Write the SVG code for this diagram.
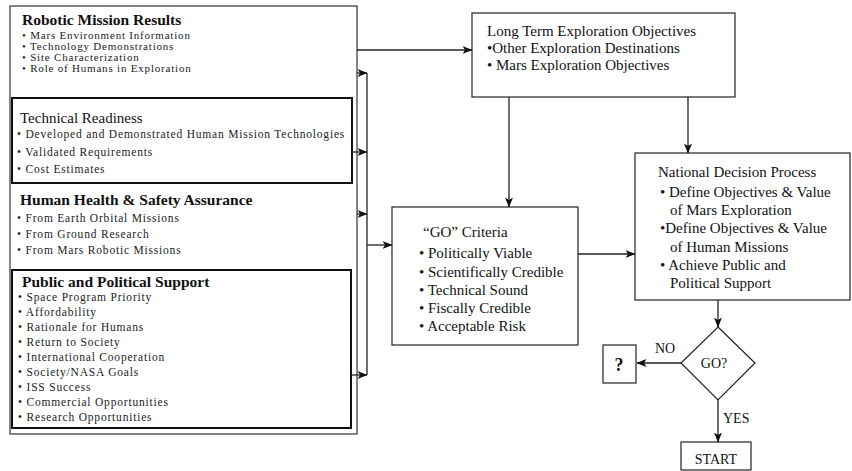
<svg xmlns="http://www.w3.org/2000/svg" width="852" height="471" viewBox="0 0 852 471">
<defs>
<style>
text{font-family:"Liberation Serif","Times New Roman",serif;fill:#111}
.t{font-size:15.5px;font-weight:bold}
.tr{font-size:15px}
.i{font-size:11.5px;letter-spacing:0.8px;fill:#222}
.r{font-size:15px}
.box{fill:#fff;stroke:#222;stroke-width:1.2}
.frame{fill:#fff;stroke:#333;stroke-width:1.2}
.thick{fill:none;stroke:#111;stroke-width:2}
.c{fill:none;stroke:#222;stroke-width:1.3}
.ca{fill:none;stroke:#222;stroke-width:1.3;marker-end:url(#ah)}
</style>
<marker id="ah" viewBox="0 0 10 8" refX="9.5" refY="4" markerWidth="10" markerHeight="8" markerUnits="userSpaceOnUse" orient="auto">
<path d="M0,0 L10,4 L0,8 L2.5,4 z" fill="#111"/>
</marker>
</defs>
<rect width="852" height="471" fill="#fff"/>

<g id="inputs">
<rect class="frame" x="10" y="6" width="347" height="428"/>
</g>

<g id="robotic">
<text class="t" x="22" y="25">Robotic Mission Results</text>
<text class="i" x="22" y="39" style="font-size:11px">• Mars Environment Information</text>
<text class="i" x="22" y="50" style="font-size:11px">• Technology Demonstrations</text>
<text class="i" x="22" y="61" style="font-size:11px">• Site Characterization</text>
<text class="i" x="22" y="72" style="font-size:11px">• Role of Humans in Exploration</text>
</g>

<g id="technical">
<rect class="thick" x="12" y="98" width="340" height="85"/>
<text class="tr" x="20" y="123">Technical Readiness</text>
<text class="i" x="17" y="138">• Developed and Demonstrated Human Mission Technologies</text>
<text class="i" x="17" y="156">• Validated Requirements</text>
<text class="i" x="17" y="173">• Cost Estimates</text>
</g>

<g id="health">
<text class="t" x="20" y="205">Human Health &amp; Safety Assurance</text>
<text class="i" x="17" y="222">• From Earth Orbital Missions</text>
<text class="i" x="17" y="238">• From Ground Research</text>
<text class="i" x="17" y="254">• From Mars Robotic Missions</text>
</g>

<g id="public">
<rect class="thick" x="12" y="270" width="339" height="158"/>
<text class="t" x="22" y="287">Public and Political Support</text>
<text class="i" x="18" y="301">• Space Program Priority</text>
<text class="i" x="18" y="316">• Affordability</text>
<text class="i" x="18" y="331">• Rationale for Humans</text>
<text class="i" x="18" y="346">• Return to Society</text>
<text class="i" x="18" y="361">• International Cooperation</text>
<text class="i" x="18" y="376">• Society/NASA Goals</text>
<text class="i" x="18" y="391">• ISS Success</text>
<text class="i" x="18" y="406">• Commercial Opportunities</text>
<text class="i" x="18" y="421">• Research Opportunities</text>
</g>

<g id="longterm">
<rect class="box" x="472" y="13" width="263" height="84"/>
<text class="r" x="487" y="36">Long Term Exploration Objectives</text>
<text class="r" x="487" y="53">•Other Exploration Destinations</text>
<text class="r" x="487" y="70">• Mars Exploration Objectives</text>
</g>

<g id="go-criteria">
<rect class="box" x="392" y="207" width="186" height="138"/>
<text class="r" x="423" y="237">“GO” Criteria</text>
<text class="r" x="419" y="258">• Politically Viable</text>
<text class="r" x="419" y="277">• Scientifically Credible</text>
<text class="r" x="419" y="295">• Technical Sound</text>
<text class="r" x="419" y="313">• Fiscally Credible</text>
<text class="r" x="419" y="331">• Acceptable Risk</text>
</g>

<g id="national">
<rect class="box" x="635" y="153" width="215" height="147"/>
<text class="r" x="658" y="177">National Decision Process</text>
<text class="r" x="660" y="197">• Define Objectives &amp; Value</text>
<text class="r" x="670" y="215">of Mars Exploration</text>
<text class="r" x="660" y="233">•Define Objectives &amp; Value</text>
<text class="r" x="670" y="252">of Human Missions</text>
<text class="r" x="660" y="270">• Achieve Public and</text>
<text class="r" x="670" y="288">Political Support</text>
</g>

<g id="decision">
<polygon class="box" points="718,327 755,363 718,400 681,363"/>
<text class="r" x="714" y="368" text-anchor="middle" style="font-size:14px">GO?</text>
</g>

<g id="unknown">
<rect class="box" x="603" y="345" width="33" height="38"/>
<text x="619" y="371" text-anchor="middle" style="font-size:18px;font-weight:bold">?</text>
</g>

<g id="start">
<rect class="box" x="681" y="442" width="70" height="28"/>
<text x="716" y="464" text-anchor="middle" style="font-size:14px">START</text>
</g>

<g id="connectors">
<line class="ca" x1="357" y1="50" x2="472" y2="50"/>
<line class="c" x1="367" y1="73" x2="367" y2="375"/>
<line class="ca" x1="357" y1="73" x2="367" y2="73"/>
<line class="ca" x1="352" y1="152" x2="367" y2="152"/>
<line class="ca" x1="357" y1="214" x2="367" y2="214"/>
<line class="ca" x1="351" y1="375" x2="367" y2="375"/>
<line class="ca" x1="367" y1="245" x2="392" y2="245"/>
<line class="ca" x1="509" y1="97" x2="509" y2="207"/>
<line class="ca" x1="688" y1="97" x2="688" y2="153"/>
<line class="ca" x1="578" y1="254" x2="635" y2="254"/>
<line class="ca" x1="718" y1="300" x2="718" y2="327"/>
<line class="ca" x1="681" y1="363" x2="637" y2="363"/>
<line class="ca" x1="718" y1="400" x2="718" y2="442"/>
<text x="665" y="353" text-anchor="middle" style="font-size:14px">NO</text>
<text x="723" y="423" style="font-size:14px">YES</text>
</g>
</svg>
